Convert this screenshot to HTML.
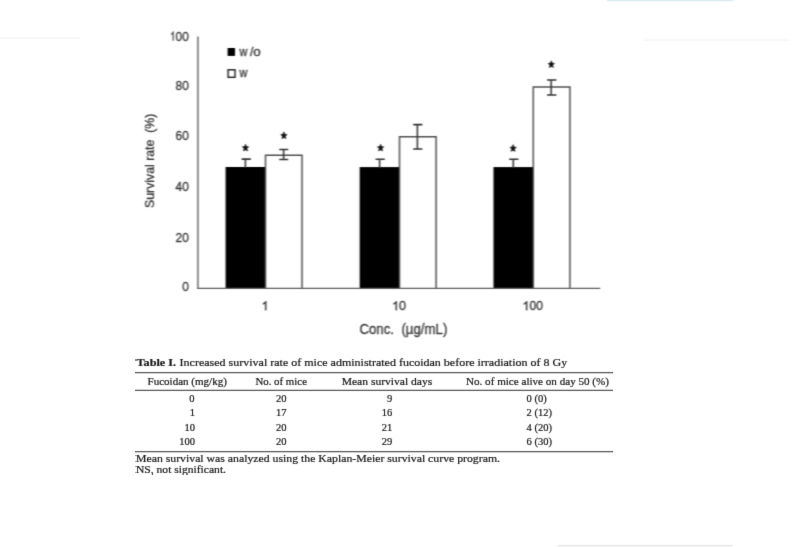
<!DOCTYPE html>
<html><head><meta charset="utf-8"><style>
html,body{margin:0;padding:0;background:#fff;width:800px;height:547px;overflow:hidden}
svg{display:block}
.s{font-family:"Liberation Sans",sans-serif;fill:#3c3c3c;stroke:#3c3c3c;stroke-width:0.35px}
.r{font-family:"Liberation Serif",serif;fill:#1a1a1a;stroke:#1a1a1a;stroke-width:0.22px}
</style></head><body>
<svg width="800" height="547" viewBox="0 0 800 547">
<defs><filter id="bl" x="0" y="0" width="100%" height="100%" color-interpolation-filters="sRGB"><feConvolveMatrix order="3" kernelMatrix="1 2 1 6 12 6 1 2 1" divisor="32" edgeMode="duplicate"/></filter><filter id="bl2" x="0" y="0" width="100%" height="100%" color-interpolation-filters="sRGB"><feConvolveMatrix order="3" kernelMatrix="0 1 0 1 8 1 0 1 0" divisor="12" edgeMode="duplicate"/></filter></defs>
<g filter="url(#bl)">
<rect x="0" y="0" width="800" height="547" fill="#fff"/>
<!-- faint scan artifacts -->
<rect x="607" y="0" width="126" height="1.2" fill="#d6eaef"/>
<rect x="558" y="545" width="175" height="1.2" fill="#e2e2e2"/>
<rect x="0" y="37.5" width="80" height="1.2" fill="#f1f1f1"/>
<rect x="644" y="39.6" width="146" height="1.2" fill="#f3f3f3"/>

<!-- chart: y ticks -->
<g class="s" font-size="12.5" text-anchor="end" lengthAdjust="spacingAndGlyphs">
<text x="188.8" y="40.55" textLength="13.18" lengthAdjust="spacingAndGlyphs">00</text>
<text x="188.8" y="90.2" textLength="13.18" lengthAdjust="spacingAndGlyphs">80</text>
<text x="188.8" y="140.15" textLength="13.18" lengthAdjust="spacingAndGlyphs">60</text>
<text x="188.8" y="190.9" textLength="13.18" lengthAdjust="spacingAndGlyphs">40</text>
<text x="188.8" y="241.8" textLength="13.18" lengthAdjust="spacingAndGlyphs">20</text>
<text x="188.8" y="291.2" textLength="6.59" lengthAdjust="spacingAndGlyphs">0</text>
</g>
<!-- y title -->
<text class="s" font-size="12" transform="translate(154.2,207.9) rotate(-90)" xml:space="preserve" textLength="94.2" lengthAdjust="spacingAndGlyphs">Survival rate  (%)</text>

<!-- bars -->
<g stroke="none" fill="#000">
<rect x="225.6" y="167.0" width="39.6" height="121.4"/>
<rect x="359.7" y="167.1" width="39.6" height="121.3"/>
<rect x="493.5" y="167.1" width="39.6" height="121.3"/>
</g>
<g stroke="#505050" stroke-width="1.5" fill="#fff">
<path d="M265.5 288.4V155.3H302V288.4"/>
<path d="M399.5 288.4V136.7H436.1V288.4"/>
<path d="M533.3 288.4V87.1H569.9V288.4"/>
</g>
<!-- axes -->
<g stroke="#5e5e5e" stroke-width="1.4" fill="none">
<line x1="197.9" y1="36.4" x2="197.9" y2="288.4"/>
<line x1="197.2" y1="288.4" x2="600.2" y2="288.4"/>
</g>
<!-- error bars -->
<g stroke="#353535" stroke-width="1.55" fill="none">
<path d="M245.4 159.1V168 M241.6 159.1H250.8"/>
<path d="M283.6 149.4V159.4 M279.2 149.4H288.2 M279.2 159.4H288.2"/>
<path d="M379.6 159.2V168 M375.6 159.2H384.8"/>
<path d="M417.4 124.6V148.9 M413.2 124.6H422.4 M413.2 148.9H422.4"/>
<path d="M513.3 159.2V168 M509.2 159.2H518.4"/>
<path d="M551.2 80.0V95.0 M547.0 80.0H556.4 M547.0 95.0H556.4"/>
</g>
<!-- stars -->
<defs><path id="one" d="M763 0H583V1147Q518 1085 412.5 1023Q307 961 223 930V1104Q375 1175 489 1276Q603 1377 650 1472H763V0Z"/><path id="st" transform="scale(1,1.15)" d="M0.00,-2.98 L0.91,-0.94 L3.14,-0.70 L1.47,0.79 L1.94,2.98 L0.00,1.87 L-1.94,2.98 L-1.47,0.79 L-3.14,-0.70 L-0.91,-0.94Z" stroke="#111" stroke-width="0.55" stroke-linejoin="round"/></defs>
<g fill="#111">
<use href="#st" x="245.5" y="147.6"/>
<use href="#st" x="283.9" y="135.3"/>
<use href="#st" x="380.6" y="147.6"/>
<use href="#st" x="513.1" y="148.0"/>
<use href="#st" x="551.3" y="64.2"/>
</g>
<!-- legend -->
<rect x="227.6" y="48" width="7.4" height="7.9" fill="#000"/>
<rect x="228.1" y="69.8" width="6.9" height="7.5" fill="#fff" stroke="#2a2a2a" stroke-width="1.5"/>
<g class="s" font-size="12.2">
<text x="239.5" y="55.8" textLength="7.9" lengthAdjust="spacingAndGlyphs">w</text>
<text x="250.1" y="55.8">/</text>
<text x="253.3" y="55.9" font-size="13.4">o</text>
<text x="239.5" y="76.7" textLength="7.9" lengthAdjust="spacingAndGlyphs">w</text>
</g>
<!-- x labels -->
<g class="s" font-size="12.6">
<text x="399.11" y="310.2">0</text>
<text x="529.6" y="310.2" textLength="13.4" lengthAdjust="spacingAndGlyphs">00</text>
</g>
<g fill="#3c3c3c" stroke="#3c3c3c" stroke-width="62">
<use href="#one" transform="translate(261.60,310.2) scale(0.006152,-0.006152)"/>
<use href="#one" transform="translate(392.10,310.2) scale(0.006152,-0.006152)"/>
<use href="#one" transform="translate(522.50,310.2) scale(0.006152,-0.006152)"/>
<use href="#one" transform="translate(170.2,40.55) scale(0.004395,-0.006104)"/>
</g>
<text class="s" font-size="14" x="359.4" y="333.7" xml:space="preserve" textLength="88" lengthAdjust="spacingAndGlyphs">Conc.  (µg/mL)</text>

</g>
<!-- table -->
<g filter="url(#bl2)">
<g class="r" font-size="10.5">
<text x="136.6" y="365.8" font-weight="bold" textLength="39.4" lengthAdjust="spacingAndGlyphs">Table I.</text>
<text x="179.6" y="365.8" textLength="387.6" lengthAdjust="spacingAndGlyphs">Increased survival rate of mice administrated fucoidan before irradiation of 8 Gy</text>
<text x="147.5" y="384.5" textLength="79.4" lengthAdjust="spacingAndGlyphs">Fucoidan (mg/kg)</text>
<text x="255.4" y="384.5" textLength="51.6" lengthAdjust="spacingAndGlyphs">No. of mice</text>
<text x="341.7" y="384.5" textLength="90.5" lengthAdjust="spacingAndGlyphs">Mean survival days</text>
<text x="466" y="384.5" textLength="143" lengthAdjust="spacingAndGlyphs">No. of mice alive on day 50 (%)</text>
</g>
<g stroke="#5a5a5a" stroke-width="1.25" fill="none">
<line x1="135.5" y1="372.5" x2="612.8" y2="372.5"/>
<line x1="135.5" y1="390.4" x2="612.8" y2="390.4"/>
<line x1="135.5" y1="451.5" x2="612.8" y2="451.5"/>
</g>
<g class="r" font-size="10.5">
<g text-anchor="end">
<text x="194.5" y="402">0</text>
<text x="195" y="416.3">1</text>
<text x="195" y="430.5">10</text>
<text x="195" y="444.7">100</text>
</g>
<g text-anchor="middle">
<text x="281.2" y="402">20</text>
<text x="281.2" y="416.3">17</text>
<text x="281.2" y="430.5">20</text>
<text x="281.2" y="444.7">20</text>
</g>
<g text-anchor="end">
<text x="392.3" y="402">9</text>
<text x="392.3" y="416.3">16</text>
<text x="392.3" y="430.5">21</text>
<text x="392.3" y="444.7">29</text>
</g>
<text x="526.6" y="402">0 (0)</text>
<text x="526.6" y="416.3">2 (12)</text>
<text x="526.6" y="430.5">4 (20)</text>
<text x="526.6" y="444.7">6 (30)</text>
<text x="136" y="461.6" font-size="11" textLength="364" lengthAdjust="spacingAndGlyphs">Mean survival was analyzed using the Kaplan-Meier survival curve program.</text>
<text x="136" y="472.7" font-size="11" textLength="90" lengthAdjust="spacingAndGlyphs">NS, not significant.</text>
</g>
</g>
</svg>
</body></html>
